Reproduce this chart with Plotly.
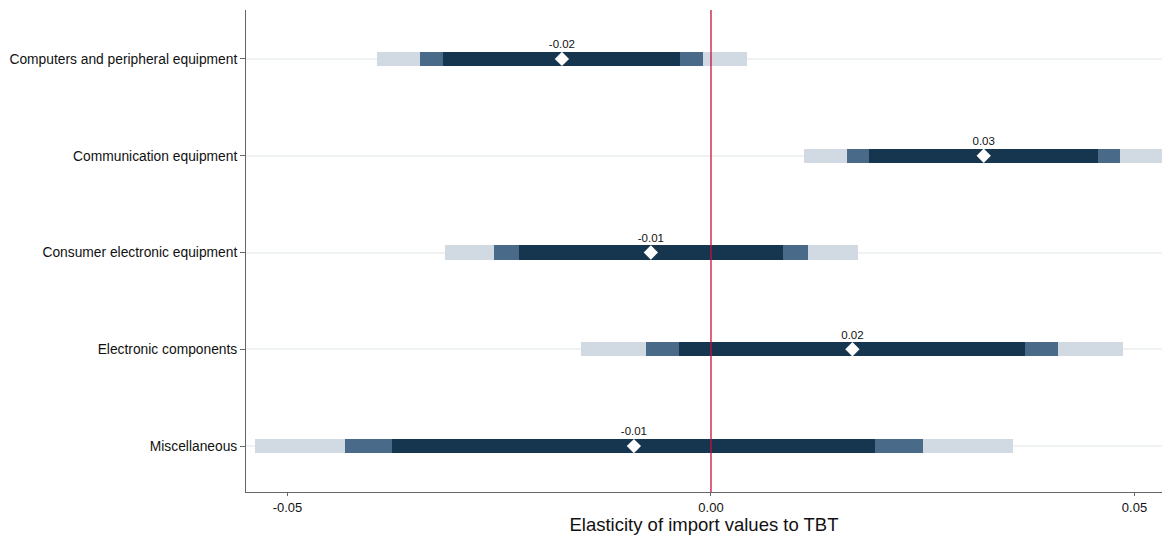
import plotly.graph_objects as go

categories = ["Computers and peripheral equipment", "Communication equipment",
              "Consumer electronic equipment", "Electronic components", "Miscellaneous"]
coef = [-0.0176, 0.0322, -0.0071, 0.0167, -0.0091]
ci99_lo = [-0.0394, 0.0110, -0.0314, -0.0154, -0.0538]
ci99_hi = [0.0043, 0.0550, 0.0174, 0.0486, 0.0356]
ci95_lo = [-0.0343, 0.0161, -0.0256, -0.0077, -0.0432]
ci95_hi = [-0.0010, 0.0483, 0.0115, 0.0410, 0.0250]
ci90_lo = [-0.0316, 0.0187, -0.0227, -0.0038, -0.0377]
ci90_hi = [-0.0037, 0.0457, 0.0085, 0.0371, 0.0194]
tick_vals = [-0.05, 0.0, 0.05]
tick_text = ["-0.05", "0.00", "0.05"]

ypos = list(range(len(categories) - 1, -1, -1))

fig = go.Figure()
for lo, hi, col in [(ci99_lo, ci99_hi, "#d1d9e2"),
                    (ci95_lo, ci95_hi, "#4a6a8a"),
                    (ci90_lo, ci90_hi, "#163650")]:
    fig.add_trace(go.Bar(
        y=ypos, x=[h - l for l, h in zip(lo, hi)], base=lo, orientation="h",
        marker=dict(color=col, line=dict(width=0)), width=0.145,
        showlegend=False, hoverinfo="skip"))

fig.add_trace(go.Scatter(
    x=coef, y=ypos, mode="markers+text",
    marker=dict(symbol="diamond", size=11, color="white",
                line=dict(color="white", width=0)),
    text=[f"{v:.2f}" for v in coef], textposition="top center",
    textfont=dict(family="Liberation Sans, Arial, sans-serif", size=11.5, color="#111"),
    showlegend=False, hoverinfo="skip", cliponaxis=False))

fig.add_vline(x=0, line=dict(color="#c8103a", width=1.3), layer="above")

fig.update_layout(
    width=1162, height=535,
    margin=dict(l=246, r=0, t=10, b=43),
    paper_bgcolor="white", plot_bgcolor="white",
    barmode="overlay", bargap=0,
    font=dict(family="Liberation Sans, Arial, sans-serif", color="#111"),
    xaxis=dict(range=[-0.0549, 0.05325], tickvals=tick_vals, ticktext=tick_text,
               showgrid=False, zeroline=False, showline=True, linecolor="#666",
               linewidth=1, ticks="outside", ticklen=3, tickcolor="#666",
               tickfont=dict(size=13),
               title=dict(text="Elasticity of import values to TBT",
                          font=dict(size=18.5), standoff=5)),
    yaxis=dict(range=[-0.475, 4.506], tickvals=ypos, ticktext=categories,
               showgrid=True, gridcolor="#eef2f2", gridwidth=1.5, zeroline=False,
               showline=True, linecolor="#666", linewidth=1, ticks="outside",
               ticklen=5, tickcolor="#666", tickfont=dict(size=13.8)),
)

fig.write_html("out.html", config={"displayModeBar": False})
with open("out.html", encoding="utf-8") as f:
    html = f.read()
html = html.replace("<body>", '<body style="margin:0;padding:0;overflow:hidden">', 1)
with open("out.html", "w", encoding="utf-8") as f:
    f.write(html)
